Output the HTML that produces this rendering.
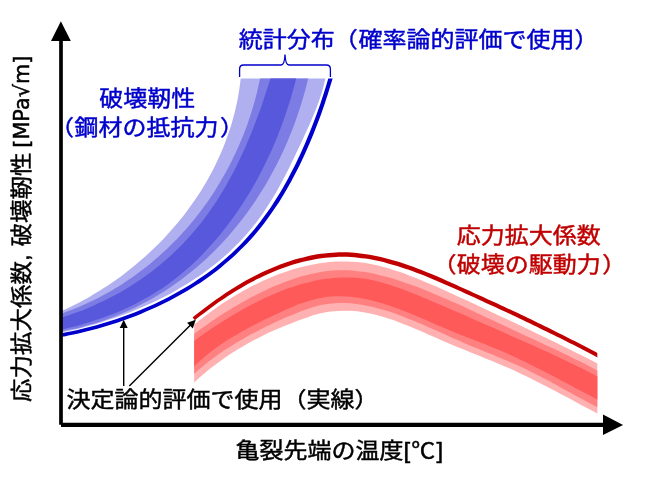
<!DOCTYPE html>
<html lang="ja"><head><meta charset="utf-8"><title>破壊靭性と応力拡大係数</title>
<style>
html,body{margin:0;padding:0;background:#fff;overflow:hidden}
body{width:645px;height:481px}
svg{display:block}
text{font-family:"Liberation Sans","Noto Sans CJK JP",sans-serif;}
</style></head><body>
<svg width="645" height="481" viewBox="0 0 645 481">
<rect width="645" height="481" fill="#fff"/>
<clipPath id="bc"><rect x="62" y="78.6" width="300" height="300"/></clipPath>
<g clip-path="url(#bc)">
<path d="M241.07,74.58 C240.93,75.92 240.55,79.95 240.22,82.62 C239.89,85.29 239.52,87.95 239.10,90.59 C238.69,93.24 238.23,95.88 237.74,98.50 C237.24,101.12 236.70,103.73 236.12,106.33 C235.54,108.93 234.92,111.51 234.26,114.09 C233.61,116.66 232.91,119.22 232.17,121.76 C231.43,124.31 230.65,126.84 229.84,129.36 C229.03,131.87 228.17,134.38 227.28,136.86 C226.39,139.35 225.47,141.83 224.50,144.28 C223.54,146.74 222.54,149.18 221.51,151.61 C220.47,154.04 219.40,156.45 218.30,158.85 C217.19,161.24 216.05,163.62 214.88,165.98 C213.70,168.35 212.50,170.69 211.26,173.02 C210.02,175.35 208.74,177.66 207.44,179.95 C206.13,182.25 204.79,184.52 203.42,186.78 C202.05,189.04 200.65,191.28 199.22,193.50 C197.79,195.72 196.33,197.92 194.83,200.10 C193.34,202.29 191.82,204.45 190.27,206.59 C188.72,208.74 187.14,210.86 185.53,212.97 C183.93,215.07 182.29,217.16 180.63,219.22 C178.97,221.28 177.28,223.32 175.56,225.35 C173.84,227.37 172.10,229.37 170.33,231.35 C168.56,233.32 166.77,235.28 164.95,237.21 C163.13,239.15 161.29,241.06 159.42,242.95 C157.55,244.84 155.66,246.71 153.75,248.55 C151.83,250.40 149.89,252.22 147.93,254.01 C145.97,255.81 143.99,257.58 141.99,259.33 C139.98,261.08 137.96,262.81 135.91,264.51 C133.87,266.21 131.80,267.88 129.71,269.53 C127.63,271.18 125.52,272.81 123.39,274.41 C121.27,276.01 119.12,277.58 116.96,279.13 C114.80,280.68 112.62,282.20 110.42,283.69 C108.22,285.19 106.01,286.65 103.78,288.10 C101.54,289.54 99.30,290.95 97.03,292.34 C94.77,293.72 92.49,295.08 90.19,296.41 C87.90,297.74 85.59,299.04 83.26,300.32 C80.94,301.59 78.60,302.83 76.25,304.05 C73.90,305.27 71.54,306.45 69.16,307.61 C66.79,308.77 63.19,310.43 62.00,310.99 L61.99,332.57 C63.61,332.20 68.48,331.12 71.73,330.35 C74.97,329.57 78.21,328.76 81.45,327.91 C84.69,327.06 87.93,326.18 91.16,325.25 C94.39,324.33 97.62,323.37 100.84,322.38 C104.05,321.38 107.26,320.35 110.46,319.28 C113.66,318.20 116.85,317.09 120.02,315.94 C123.19,314.79 126.35,313.61 129.50,312.38 C132.64,311.15 135.77,309.88 138.88,308.57 C141.99,307.27 145.09,305.92 148.16,304.53 C151.23,303.14 154.28,301.71 157.31,300.23 C160.33,298.76 163.34,297.25 166.32,295.69 C169.29,294.13 172.25,292.53 175.17,290.89 C178.09,289.25 180.99,287.56 183.85,285.83 C186.72,284.10 189.55,282.32 192.36,280.51 C195.16,278.69 197.92,276.82 200.66,274.91 C203.39,273.00 206.08,271.05 208.74,269.05 C211.40,267.05 214.02,265.00 216.60,262.91 C219.18,260.81 221.72,258.67 224.21,256.48 C226.71,254.30 229.16,252.06 231.56,249.78 C233.97,247.49 236.33,245.16 238.64,242.78 C240.95,240.40 243.22,237.97 245.43,235.49 C247.64,233.01 249.81,230.48 251.92,227.90 C254.02,225.32 256.08,222.69 258.08,220.01 C260.08,217.33 262.03,214.59 263.92,211.82 C265.82,209.04 267.66,206.22 269.46,203.36 C271.26,200.51 273.02,197.61 274.73,194.69 C276.45,191.76 278.12,188.80 279.76,185.83 C281.40,182.85 283.00,179.84 284.58,176.83 C286.15,173.81 287.70,170.77 289.22,167.72 C290.74,164.68 292.23,161.62 293.70,158.56 C295.18,155.50 296.63,152.43 298.07,149.37 C299.51,146.31 300.94,143.25 302.35,140.20 C303.76,137.15 305.18,134.12 306.55,131.08 C307.93,128.04 309.31,125.02 310.63,121.97 C311.95,118.93 313.25,115.88 314.49,112.81 C315.73,109.75 316.93,106.67 318.06,103.56 C319.18,100.44 320.26,97.31 321.25,94.14 C322.24,90.96 323.17,87.76 324.00,84.51 C324.82,81.25 325.84,76.26 326.21,74.61 Z" fill="#b0b0f0"/>
<path d="M260.80,74.59 C260.53,75.96 259.75,80.05 259.16,82.77 C258.58,85.49 257.96,88.21 257.31,90.91 C256.66,93.62 255.97,96.31 255.25,99.00 C254.53,101.69 253.78,104.37 252.99,107.04 C252.20,109.71 251.38,112.37 250.52,115.02 C249.66,117.67 248.77,120.31 247.85,122.94 C246.92,125.57 245.96,128.18 244.97,130.79 C243.98,133.39 242.96,135.98 241.91,138.56 C240.85,141.14 239.76,143.70 238.64,146.25 C237.52,148.80 236.37,151.34 235.18,153.86 C234.00,156.38 232.78,158.89 231.53,161.37 C230.29,163.86 229.01,166.34 227.69,168.79 C226.38,171.25 225.04,173.69 223.67,176.11 C222.30,178.53 220.89,180.93 219.46,183.31 C218.03,185.69 216.56,188.06 215.07,190.40 C213.57,192.75 212.05,195.07 210.49,197.38 C208.94,199.68 207.36,201.96 205.74,204.22 C204.13,206.48 202.49,208.72 200.82,210.94 C199.14,213.15 197.44,215.35 195.72,217.51 C193.99,219.68 192.23,221.83 190.44,223.95 C188.66,226.07 186.84,228.17 185.00,230.24 C183.16,232.31 181.29,234.36 179.39,236.38 C177.50,238.40 175.57,240.39 173.62,242.36 C171.67,244.33 169.70,246.27 167.70,248.18 C165.69,250.10 163.67,251.98 161.61,253.84 C159.56,255.70 157.48,257.53 155.38,259.33 C153.27,261.13 151.14,262.91 148.99,264.65 C146.84,266.40 144.66,268.11 142.46,269.80 C140.26,271.48 138.04,273.13 135.79,274.76 C133.54,276.38 131.27,277.97 128.98,279.54 C126.68,281.10 124.37,282.63 122.03,284.13 C119.69,285.62 117.33,287.09 114.95,288.52 C112.57,289.95 110.16,291.36 107.74,292.72 C105.32,294.09 102.87,295.42 100.41,296.72 C97.94,298.02 95.45,299.28 92.95,300.51 C90.44,301.74 87.92,302.94 85.37,304.10 C82.83,305.26 80.26,306.38 77.68,307.47 C75.10,308.55 72.50,309.60 69.88,310.62 C67.26,311.63 63.28,313.06 61.96,313.55 L61.98,331.27 C63.59,330.95 68.44,330.06 71.64,329.37 C74.84,328.69 78.03,327.95 81.19,327.15 C84.36,326.36 87.51,325.51 90.63,324.61 C93.76,323.71 96.86,322.75 99.95,321.74 C103.03,320.74 106.09,319.68 109.13,318.57 C112.17,317.46 115.19,316.30 118.18,315.09 C121.17,313.87 124.14,312.61 127.08,311.30 C130.03,309.99 132.95,308.63 135.84,307.22 C138.73,305.81 141.60,304.35 144.44,302.85 C147.28,301.35 150.10,299.79 152.88,298.19 C155.67,296.60 158.42,294.95 161.15,293.26 C163.88,291.57 166.58,289.83 169.25,288.05 C171.92,286.27 174.55,284.44 177.16,282.57 C179.77,280.70 182.35,278.79 184.89,276.83 C187.44,274.88 189.95,272.88 192.43,270.85 C194.92,268.81 197.37,266.73 199.78,264.62 C202.20,262.50 204.58,260.34 206.94,258.15 C209.29,255.96 211.60,253.73 213.89,251.46 C216.17,249.20 218.42,246.89 220.64,244.56 C222.85,242.22 225.03,239.84 227.18,237.44 C229.32,235.03 231.43,232.59 233.51,230.12 C235.58,227.65 237.62,225.15 239.62,222.62 C241.62,220.08 243.59,217.52 245.51,214.92 C247.44,212.33 249.33,209.71 251.19,207.06 C253.04,204.41 254.86,201.73 256.64,199.03 C258.42,196.33 260.16,193.60 261.86,190.84 C263.57,188.09 265.24,185.31 266.87,182.51 C268.50,179.71 270.09,176.89 271.64,174.05 C273.20,171.20 274.72,168.34 276.20,165.45 C277.68,162.57 279.12,159.66 280.52,156.74 C281.93,153.82 283.29,150.88 284.62,147.92 C285.95,144.96 287.24,141.99 288.49,139.00 C289.74,136.01 290.95,133.01 292.13,129.99 C293.30,126.98 294.44,123.95 295.54,120.91 C296.63,117.87 297.69,114.81 298.71,111.75 C299.73,108.69 300.72,105.61 301.66,102.53 C302.60,99.45 303.51,96.36 304.37,93.26 C305.24,90.16 306.06,87.06 306.85,83.95 C307.64,80.84 308.72,76.16 309.09,74.60 Z" fill="#7c7ce4"/>
<path d="M271.61,74.62 C271.20,75.97 269.97,80.02 269.13,82.72 C268.29,85.43 267.43,88.14 266.55,90.85 C265.67,93.56 264.78,96.27 263.86,98.99 C262.95,101.70 262.02,104.41 261.07,107.13 C260.11,109.84 259.14,112.55 258.15,115.25 C257.16,117.96 256.15,120.66 255.11,123.36 C254.08,126.06 253.03,128.75 251.95,131.43 C250.87,134.12 249.77,136.80 248.65,139.46 C247.53,142.13 246.38,144.79 245.21,147.44 C244.04,150.09 242.84,152.73 241.62,155.35 C240.40,157.98 239.16,160.59 237.88,163.19 C236.61,165.79 235.31,168.38 233.99,170.94 C232.66,173.51 231.31,176.07 229.93,178.60 C228.54,181.14 227.14,183.65 225.70,186.15 C224.26,188.65 222.79,191.13 221.29,193.58 C219.79,196.04 218.26,198.47 216.70,200.88 C215.14,203.30 213.55,205.69 211.92,208.05 C210.30,210.41 208.64,212.75 206.95,215.06 C205.26,217.37 203.54,219.66 201.78,221.92 C200.03,224.17 198.23,226.40 196.41,228.60 C194.59,230.80 192.73,232.97 190.84,235.11 C188.95,237.25 187.03,239.36 185.07,241.44 C183.12,243.52 181.13,245.56 179.11,247.58 C177.10,249.60 175.05,251.58 172.97,253.53 C170.89,255.48 168.78,257.40 166.64,259.29 C164.50,261.17 162.33,263.03 160.13,264.84 C157.93,266.66 155.70,268.44 153.44,270.19 C151.18,271.94 148.90,273.65 146.58,275.33 C144.27,277.00 141.92,278.64 139.55,280.25 C137.18,281.85 134.78,283.42 132.36,284.95 C129.94,286.48 127.49,287.97 125.02,289.43 C122.54,290.89 120.05,292.31 117.53,293.69 C115.01,295.08 112.47,296.43 109.91,297.74 C107.34,299.06 104.76,300.34 102.16,301.58 C99.56,302.82 96.94,304.03 94.31,305.21 C91.67,306.38 89.02,307.52 86.35,308.63 C83.68,309.74 81.00,310.81 78.30,311.84 C75.60,312.88 72.89,313.89 70.17,314.86 C67.45,315.83 63.34,317.20 61.97,317.67 L61.98,329.57 C63.51,329.20 68.11,328.12 71.17,327.34 C74.22,326.56 77.27,325.74 80.30,324.88 C83.34,324.03 86.37,323.13 89.38,322.20 C92.39,321.26 95.40,320.28 98.38,319.27 C101.36,318.25 104.33,317.19 107.28,316.08 C110.23,314.98 113.17,313.83 116.08,312.64 C118.99,311.44 121.88,310.21 124.74,308.92 C127.60,307.63 130.44,306.30 133.25,304.92 C136.06,303.53 138.85,302.10 141.60,300.62 C144.36,299.14 147.08,297.60 149.77,296.02 C152.46,294.44 155.12,292.80 157.75,291.12 C160.38,289.43 162.97,287.70 165.53,285.91 C168.08,284.13 170.61,282.30 173.09,280.42 C175.58,278.53 178.03,276.60 180.44,274.62 C182.86,272.65 185.24,270.62 187.58,268.56 C189.92,266.49 192.22,264.38 194.50,262.23 C196.77,260.08 199.00,257.88 201.20,255.66 C203.40,253.43 205.56,251.16 207.69,248.86 C209.82,246.56 211.91,244.23 213.97,241.86 C216.03,239.50 218.06,237.10 220.05,234.68 C222.04,232.25 224.00,229.79 225.92,227.31 C227.84,224.83 229.73,222.32 231.59,219.78 C233.44,217.24 235.26,214.68 237.05,212.09 C238.83,209.50 240.59,206.88 242.30,204.24 C244.02,201.61 245.71,198.94 247.36,196.26 C249.01,193.58 250.63,190.87 252.21,188.14 C253.79,185.42 255.34,182.67 256.86,179.90 C258.37,177.14 259.85,174.35 261.30,171.55 C262.75,168.75 264.17,165.93 265.55,163.09 C266.93,160.25 268.28,157.40 269.60,154.53 C270.91,151.66 272.19,148.78 273.44,145.89 C274.69,142.99 275.91,140.08 277.09,137.16 C278.27,134.24 279.42,131.31 280.54,128.37 C281.65,125.42 282.74,122.47 283.79,119.51 C284.84,116.55 285.86,113.58 286.84,110.60 C287.83,107.62 288.78,104.64 289.70,101.65 C290.62,98.66 291.51,95.66 292.36,92.66 C293.22,89.66 294.04,86.65 294.83,83.65 C295.62,80.64 296.72,76.12 297.10,74.62 Z" fill="#5858dc"/>
<path d="M329.53,74.05 C329.06,75.65 327.70,80.46 326.74,83.67 C325.78,86.87 324.80,90.07 323.78,93.28 C322.76,96.48 321.70,99.68 320.62,102.89 C319.54,106.09 318.42,109.29 317.27,112.48 C316.12,115.68 314.94,118.87 313.73,122.06 C312.52,125.24 311.27,128.42 310.00,131.60 C308.72,134.77 307.41,137.94 306.06,141.09 C304.72,144.25 303.34,147.39 301.93,150.52 C300.52,153.66 299.07,156.78 297.59,159.87 C296.11,162.97 294.59,166.06 293.04,169.12 C291.48,172.18 289.89,175.23 288.26,178.24 C286.62,181.26 284.95,184.25 283.24,187.22 C281.53,190.18 279.78,193.12 277.99,196.02 C276.20,198.93 274.36,201.80 272.49,204.64 C270.61,207.48 268.69,210.28 266.73,213.04 C264.76,215.81 262.75,218.54 260.70,221.22 C258.65,223.90 256.55,226.54 254.40,229.14 C252.25,231.73 250.06,234.29 247.81,236.79 C245.57,239.29 243.28,241.74 240.94,244.14 C238.60,246.54 236.21,248.90 233.77,251.20 C231.34,253.50 228.86,255.76 226.33,257.97 C223.81,260.17 221.24,262.33 218.63,264.45 C216.03,266.56 213.38,268.62 210.69,270.64 C208.00,272.65 205.27,274.62 202.51,276.55 C199.74,278.47 196.94,280.35 194.11,282.18 C191.28,284.01 188.41,285.79 185.51,287.53 C182.61,289.26 179.67,290.96 176.71,292.60 C173.75,294.25 170.76,295.85 167.75,297.41 C164.73,298.97 161.69,300.48 158.62,301.94 C155.55,303.41 152.46,304.84 149.34,306.22 C146.23,307.59 143.09,308.93 139.94,310.22 C136.78,311.52 133.60,312.76 130.41,313.97 C127.22,315.18 124.01,316.34 120.78,317.46 C117.56,318.58 114.32,319.66 111.06,320.70 C107.81,321.74 104.55,322.73 101.27,323.69 C98.00,324.64 94.71,325.55 91.42,326.42 C88.13,327.30 84.83,328.13 81.52,328.92 C78.22,329.71 74.91,330.46 71.59,331.17 C68.28,331.88 63.29,332.85 61.63,333.19 L62.35,336.74 C64.02,336.40 69.02,335.43 72.35,334.72 C75.69,334.00 79.03,333.25 82.37,332.45 C85.70,331.66 89.03,330.82 92.35,329.94 C95.67,329.07 98.99,328.15 102.29,327.19 C105.59,326.23 108.89,325.23 112.17,324.18 C115.46,323.14 118.73,322.05 121.98,320.92 C125.24,319.79 128.48,318.62 131.71,317.41 C134.93,316.19 138.14,314.94 141.33,313.63 C144.52,312.33 147.69,310.99 150.84,309.60 C153.99,308.21 157.12,306.77 160.22,305.29 C163.32,303.81 166.40,302.29 169.45,300.72 C172.51,299.15 175.53,297.54 178.53,295.87 C181.53,294.21 184.50,292.51 187.44,290.75 C190.37,289.00 193.28,287.20 196.16,285.35 C199.03,283.50 201.87,281.61 204.67,279.66 C207.48,277.72 210.25,275.73 212.97,273.69 C215.70,271.65 218.40,269.57 221.05,267.43 C223.70,265.29 226.31,263.11 228.87,260.87 C231.44,258.64 233.96,256.36 236.44,254.02 C238.92,251.69 241.35,249.30 243.73,246.87 C246.12,244.44 248.45,241.95 250.74,239.42 C253.02,236.88 255.26,234.29 257.44,231.66 C259.63,229.04 261.76,226.36 263.85,223.64 C265.94,220.92 267.99,218.16 269.98,215.36 C271.98,212.57 273.93,209.73 275.84,206.86 C277.74,203.99 279.60,201.08 281.42,198.14 C283.24,195.21 285.01,192.24 286.75,189.24 C288.48,186.25 290.18,183.22 291.83,180.18 C293.48,177.13 295.09,174.06 296.67,170.97 C298.24,167.88 299.78,164.77 301.28,161.64 C302.78,158.51 304.24,155.37 305.67,152.21 C307.09,149.06 308.48,145.88 309.84,142.70 C311.20,139.52 312.52,136.33 313.81,133.14 C315.10,129.94 316.36,126.74 317.59,123.53 C318.81,120.32 320.00,117.10 321.16,113.88 C322.32,110.66 323.44,107.44 324.54,104.21 C325.63,100.99 326.69,97.76 327.72,94.54 C328.75,91.31 329.75,88.08 330.72,84.86 C331.68,81.64 333.05,76.82 333.52,75.21 Z" fill="#0000cc"/>
</g>
<clipPath id="rc"><rect x="194.2" y="200" width="403.09999999999997" height="240"/></clipPath>
<clipPath id="rs"><rect x="180" y="200" width="417.29999999999995" height="240"/></clipPath>
<g clip-path="url(#rc)">
<path d="M190.20,328.03 C191.14,327.25 193.92,324.89 195.83,323.33 C197.73,321.78 199.66,320.23 201.62,318.70 C203.58,317.17 205.57,315.64 207.58,314.14 C209.60,312.64 211.63,311.15 213.70,309.67 C215.76,308.20 217.85,306.75 219.96,305.31 C222.06,303.88 224.20,302.46 226.35,301.07 C228.51,299.68 230.68,298.31 232.88,296.97 C235.08,295.62 237.29,294.30 239.53,293.01 C241.76,291.72 244.02,290.45 246.29,289.22 C248.56,287.99 250.85,286.78 253.15,285.61 C255.46,284.43 257.78,283.29 260.12,282.19 C262.45,281.08 264.81,280.01 267.17,278.98 C269.53,277.94 271.91,276.94 274.30,275.99 C276.69,275.03 279.09,274.11 281.50,273.23 C283.92,272.36 286.34,271.52 288.77,270.73 C291.20,269.95 293.65,269.20 296.10,268.50 C298.55,267.80 301.00,267.15 303.47,266.55 C305.93,265.95 308.40,265.39 310.88,264.89 C313.35,264.39 315.83,263.94 318.32,263.55 C320.80,263.15 323.29,262.81 325.78,262.52 C328.27,262.24 330.77,262.01 333.26,261.84 C335.75,261.67 338.25,261.56 340.75,261.51 C343.24,261.47 345.74,261.48 348.23,261.56 C350.72,261.63 353.21,261.77 355.70,261.98 C358.19,262.19 360.67,262.46 363.16,262.80 C365.64,263.14 368.11,263.55 370.59,264.01 C373.06,264.47 375.53,265.00 377.99,265.58 C380.46,266.15 382.92,266.78 385.37,267.46 C387.83,268.13 390.28,268.86 392.72,269.63 C395.16,270.39 397.60,271.20 400.04,272.04 C402.47,272.88 404.90,273.77 407.32,274.67 C409.74,275.58 412.16,276.52 414.57,277.48 C416.98,278.44 419.38,279.43 421.78,280.43 C424.17,281.43 426.57,282.46 428.95,283.49 C431.33,284.52 433.71,285.57 436.08,286.62 C438.45,287.67 440.81,288.74 443.16,289.79 C445.52,290.85 447.86,291.91 450.20,292.97 C452.54,294.03 454.88,295.10 457.20,296.16 C459.53,297.22 461.85,298.28 464.17,299.35 C466.48,300.41 468.79,301.48 471.10,302.54 C473.40,303.61 475.70,304.68 478.00,305.74 C480.30,306.81 482.59,307.88 484.88,308.95 C487.17,310.02 489.45,311.09 491.74,312.16 C494.02,313.23 496.30,314.30 498.58,315.38 C500.86,316.45 503.13,317.52 505.41,318.60 C507.68,319.67 509.96,320.75 512.23,321.83 C514.51,322.90 516.78,323.98 519.05,325.06 C521.33,326.14 523.60,327.22 525.87,328.30 C528.15,329.38 530.42,330.46 532.70,331.55 C534.98,332.63 537.26,333.72 539.53,334.80 C541.81,335.89 544.09,336.98 546.37,338.07 C548.65,339.17 550.93,340.26 553.21,341.36 C555.49,342.46 557.77,343.56 560.05,344.67 C562.33,345.78 564.62,346.89 566.89,348.01 C569.17,349.13 571.45,350.26 573.73,351.39 C576.01,352.52 578.29,353.65 580.56,354.80 C582.84,355.94 585.12,357.10 587.39,358.26 C589.66,359.41 591.94,360.58 594.21,361.76 C596.48,362.94 599.88,364.72 601.01,365.32 L600.98,415.29 C599.85,414.71 596.47,412.96 594.22,411.79 C591.96,410.61 589.70,409.42 587.44,408.23 C585.18,407.03 582.92,405.83 580.66,404.63 C578.39,403.42 576.12,402.21 573.86,401.00 C571.59,399.79 569.31,398.58 567.04,397.37 C564.77,396.16 562.49,394.94 560.21,393.73 C557.93,392.53 555.65,391.32 553.36,390.12 C551.08,388.92 548.79,387.72 546.50,386.53 C544.21,385.35 541.91,384.16 539.61,382.99 C537.32,381.82 535.02,380.66 532.71,379.52 C530.41,378.37 528.10,377.23 525.79,376.11 C523.48,374.99 521.17,373.88 518.85,372.79 C516.54,371.70 514.22,370.63 511.89,369.58 C509.57,368.52 507.24,367.49 504.91,366.47 C502.58,365.45 500.24,364.45 497.91,363.46 C495.57,362.47 493.23,361.50 490.88,360.53 C488.54,359.56 486.19,358.60 483.84,357.64 C481.49,356.68 479.14,355.74 476.79,354.78 C474.43,353.83 472.08,352.89 469.72,351.94 C467.36,350.99 465.00,350.04 462.64,349.08 C460.27,348.12 457.91,347.16 455.54,346.18 C453.18,345.21 450.81,344.23 448.44,343.23 C446.07,342.23 443.70,341.22 441.33,340.20 C438.95,339.17 436.58,338.13 434.20,337.09 C431.83,336.04 429.45,334.98 427.07,333.93 C424.69,332.88 422.30,331.83 419.92,330.79 C417.53,329.75 415.13,328.72 412.74,327.71 C410.34,326.70 407.94,325.70 405.53,324.73 C403.12,323.77 400.70,322.82 398.28,321.92 C395.86,321.01 393.43,320.13 390.99,319.31 C388.55,318.48 386.11,317.69 383.66,316.95 C381.20,316.22 378.74,315.53 376.27,314.90 C373.80,314.28 371.31,313.71 368.82,313.21 C366.33,312.71 363.82,312.28 361.31,311.92 C358.79,311.57 356.26,311.28 353.73,311.09 C351.20,310.89 348.65,310.77 346.11,310.73 C343.57,310.70 341.02,310.74 338.48,310.88 C335.94,311.02 333.40,311.25 330.87,311.57 C328.35,311.89 325.83,312.30 323.32,312.80 C320.82,313.31 318.34,313.93 315.86,314.61 C313.39,315.29 310.94,316.09 308.49,316.90 C306.05,317.71 303.62,318.59 301.19,319.47 C298.76,320.35 296.34,321.25 293.93,322.18 C291.51,323.10 289.11,324.03 286.72,325.00 C284.33,325.96 281.94,326.94 279.58,327.94 C277.21,328.95 274.86,329.98 272.52,331.03 C270.19,332.09 267.87,333.17 265.57,334.27 C263.27,335.38 260.98,336.51 258.72,337.67 C256.45,338.82 254.20,340.01 251.97,341.22 C249.73,342.43 247.52,343.67 245.32,344.93 C243.12,346.20 240.93,347.49 238.77,348.81 C236.60,350.14 234.45,351.49 232.32,352.86 C230.19,354.24 228.08,355.65 225.98,357.09 C223.88,358.52 221.80,359.99 219.74,361.48 C217.67,362.98 215.62,364.51 213.59,366.06 C211.56,367.62 209.55,369.20 207.55,370.82 C205.56,372.44 203.58,374.09 201.62,375.77 C199.65,377.45 197.71,379.16 195.78,380.90 C193.85,382.64 191.00,385.34 190.04,386.22 Z" fill="#ffb0b0"/>
<path d="M189.99,336.82 C190.99,336.08 193.99,333.86 196.00,332.39 C198.02,330.92 200.04,329.46 202.08,328.02 C204.12,326.57 206.17,325.14 208.23,323.72 C210.29,322.30 212.37,320.89 214.46,319.50 C216.55,318.10 218.65,316.72 220.77,315.36 C222.89,313.99 225.02,312.64 227.17,311.30 C229.32,309.97 231.48,308.65 233.67,307.34 C235.85,306.04 238.04,304.75 240.25,303.48 C242.47,302.22 244.70,300.96 246.95,299.73 C249.19,298.50 251.46,297.28 253.74,296.09 C256.02,294.90 258.32,293.72 260.64,292.58 C262.95,291.44 265.28,290.32 267.62,289.24 C269.97,288.15 272.33,287.09 274.69,286.08 C277.06,285.06 279.45,284.07 281.84,283.13 C284.23,282.19 286.64,281.28 289.05,280.42 C291.47,279.56 293.90,278.74 296.33,277.97 C298.76,277.20 301.20,276.48 303.65,275.81 C306.10,275.15 308.56,274.53 311.02,273.97 C313.48,273.41 315.95,272.91 318.43,272.47 C320.90,272.03 323.38,271.64 325.86,271.33 C328.34,271.01 330.82,270.76 333.31,270.58 C335.79,270.40 338.28,270.29 340.77,270.25 C343.26,270.21 345.75,270.25 348.24,270.36 C350.73,270.46 353.22,270.64 355.70,270.88 C358.19,271.12 360.68,271.43 363.16,271.79 C365.64,272.15 368.12,272.58 370.60,273.05 C373.08,273.52 375.56,274.06 378.03,274.63 C380.50,275.20 382.97,275.83 385.43,276.49 C387.89,277.15 390.35,277.86 392.80,278.60 C395.25,279.34 397.70,280.12 400.13,280.93 C402.57,281.73 405.00,282.57 407.43,283.43 C409.85,284.29 412.27,285.19 414.68,286.09 C417.09,287.00 419.48,287.92 421.87,288.86 C424.26,289.80 426.65,290.75 429.02,291.72 C431.39,292.69 433.75,293.67 436.11,294.66 C438.47,295.65 440.81,296.65 443.16,297.66 C445.50,298.67 447.83,299.69 450.16,300.72 C452.49,301.75 454.81,302.79 457.13,303.84 C459.45,304.88 461.76,305.94 464.07,306.99 C466.38,308.05 468.68,309.12 470.98,310.19 C473.28,311.25 475.58,312.33 477.87,313.40 C480.17,314.48 482.46,315.55 484.75,316.63 C487.04,317.71 489.32,318.79 491.61,319.87 C493.89,320.95 496.18,322.04 498.46,323.11 C500.75,324.19 503.03,325.27 505.31,326.34 C507.60,327.42 509.88,328.49 512.17,329.56 C514.45,330.63 516.74,331.69 519.03,332.75 C521.31,333.81 523.60,334.86 525.89,335.92 C528.18,336.97 530.47,338.02 532.76,339.07 C535.05,340.13 537.34,341.18 539.63,342.24 C541.92,343.29 544.21,344.35 546.50,345.41 C548.78,346.47 551.07,347.54 553.36,348.61 C555.64,349.68 557.93,350.75 560.21,351.84 C562.49,352.92 564.77,354.01 567.05,355.11 C569.33,356.22 571.61,357.32 573.88,358.45 C576.15,359.57 578.43,360.70 580.69,361.84 C582.96,362.99 585.22,364.15 587.48,365.32 C589.74,366.49 592.00,367.68 594.25,368.88 C596.51,370.09 599.87,371.94 601.00,372.55 L600.99,408.97 C599.86,408.40 596.46,406.69 594.20,405.53 C591.94,404.36 589.68,403.18 587.42,401.98 C585.16,400.78 582.90,399.56 580.65,398.34 C578.39,397.12 576.13,395.88 573.87,394.65 C571.61,393.41 569.36,392.17 567.09,390.92 C564.83,389.68 562.57,388.43 560.31,387.19 C558.04,385.95 555.78,384.71 553.51,383.48 C551.24,382.25 548.96,381.02 546.69,379.81 C544.41,378.60 542.13,377.40 539.85,376.21 C537.56,375.03 535.27,373.86 532.98,372.71 C530.68,371.57 528.39,370.44 526.08,369.33 C523.77,368.23 521.46,367.15 519.15,366.09 C516.83,365.03 514.51,364.00 512.18,362.97 C509.85,361.95 507.52,360.94 505.19,359.95 C502.85,358.95 500.51,357.97 498.17,356.99 C495.83,356.01 493.48,355.05 491.13,354.08 C488.79,353.12 486.43,352.16 484.08,351.19 C481.73,350.23 479.37,349.27 477.02,348.30 C474.66,347.33 472.30,346.36 469.94,345.38 C467.58,344.39 465.22,343.41 462.86,342.40 C460.50,341.40 458.14,340.38 455.78,339.35 C453.42,338.31 451.06,337.26 448.70,336.21 C446.34,335.16 443.98,334.09 441.62,333.03 C439.25,331.97 436.89,330.90 434.52,329.84 C432.15,328.78 429.78,327.72 427.41,326.67 C425.03,325.62 422.65,324.58 420.27,323.56 C417.89,322.53 415.50,321.52 413.11,320.53 C410.71,319.55 408.31,318.57 405.91,317.63 C403.50,316.70 401.09,315.78 398.67,314.90 C396.25,314.02 393.83,313.16 391.39,312.35 C388.96,311.54 386.51,310.76 384.06,310.04 C381.61,309.31 379.15,308.62 376.68,307.98 C374.21,307.35 371.72,306.76 369.23,306.23 C366.74,305.69 364.24,305.21 361.72,304.80 C359.20,304.39 356.67,304.02 354.14,303.74 C351.61,303.46 349.06,303.24 346.52,303.11 C343.97,302.98 341.42,302.92 338.88,302.97 C336.34,303.02 333.80,303.15 331.27,303.39 C328.75,303.63 326.23,303.97 323.73,304.44 C321.23,304.90 318.75,305.50 316.28,306.17 C313.82,306.85 311.37,307.66 308.93,308.48 C306.50,309.30 304.07,310.20 301.65,311.10 C299.23,312.00 296.82,312.94 294.42,313.90 C292.03,314.85 289.63,315.84 287.26,316.85 C284.88,317.86 282.51,318.90 280.15,319.96 C277.80,321.02 275.46,322.10 273.12,323.20 C270.79,324.30 268.48,325.42 266.17,326.56 C263.87,327.70 261.58,328.86 259.30,330.03 C257.03,331.20 254.76,332.39 252.52,333.59 C250.27,334.80 248.04,336.01 245.83,337.26 C243.61,338.50 241.41,339.76 239.23,341.04 C237.05,342.32 234.88,343.63 232.73,344.96 C230.58,346.29 228.44,347.64 226.32,349.03 C224.20,350.41 222.10,351.82 220.02,353.27 C217.93,354.71 215.86,356.18 213.81,357.69 C211.76,359.20 209.73,360.74 207.71,362.32 C205.70,363.89 203.70,365.51 201.72,367.16 C199.74,368.81 197.78,370.50 195.83,372.24 C193.89,373.97 191.02,376.68 190.06,377.56 Z" fill="#ff8080"/>
<path d="M189.96,343.78 C190.98,343.05 194.02,340.86 196.06,339.40 C198.10,337.95 200.14,336.51 202.20,335.07 C204.26,333.64 206.32,332.22 208.40,330.81 C210.48,329.40 212.56,327.99 214.66,326.61 C216.76,325.22 218.87,323.85 220.99,322.49 C223.11,321.13 225.25,319.79 227.39,318.47 C229.54,317.14 231.70,315.83 233.87,314.54 C236.05,313.25 238.23,311.98 240.44,310.73 C242.64,309.48 244.86,308.25 247.09,307.04 C249.32,305.83 251.57,304.64 253.83,303.48 C256.10,302.31 258.38,301.17 260.68,300.06 C262.98,298.94 265.30,297.85 267.63,296.79 C269.96,295.73 272.31,294.69 274.67,293.70 C277.04,292.70 279.41,291.73 281.80,290.80 C284.19,289.87 286.60,288.97 289.01,288.12 C291.43,287.27 293.85,286.45 296.29,285.69 C298.72,284.92 301.17,284.19 303.62,283.52 C306.07,282.84 308.53,282.21 311.00,281.64 C313.46,281.06 315.94,280.54 318.41,280.07 C320.89,279.60 323.37,279.19 325.86,278.84 C328.34,278.49 330.83,278.20 333.32,277.97 C335.80,277.74 338.29,277.58 340.78,277.48 C343.27,277.39 345.76,277.36 348.24,277.40 C350.73,277.45 353.21,277.56 355.69,277.75 C358.17,277.94 360.65,278.21 363.12,278.55 C365.59,278.89 368.05,279.31 370.51,279.79 C372.98,280.27 375.43,280.83 377.88,281.43 C380.33,282.03 382.78,282.70 385.22,283.41 C387.66,284.12 390.09,284.88 392.52,285.68 C394.95,286.48 397.37,287.33 399.79,288.20 C402.21,289.08 404.62,289.99 407.03,290.92 C409.43,291.85 411.83,292.82 414.23,293.79 C416.62,294.76 419.01,295.75 421.39,296.75 C423.77,297.74 426.15,298.75 428.52,299.76 C430.88,300.76 433.25,301.77 435.60,302.78 C437.96,303.78 440.31,304.79 442.66,305.80 C445.00,306.80 447.34,307.81 449.68,308.82 C452.02,309.83 454.35,310.83 456.67,311.84 C459.00,312.85 461.32,313.86 463.64,314.87 C465.96,315.88 468.27,316.89 470.59,317.90 C472.90,318.91 475.21,319.92 477.51,320.93 C479.82,321.94 482.12,322.95 484.42,323.97 C486.72,324.98 489.02,325.99 491.32,327.01 C493.62,328.02 495.91,329.04 498.21,330.05 C500.50,331.07 502.79,332.09 505.09,333.10 C507.38,334.12 509.67,335.14 511.96,336.16 C514.26,337.18 516.55,338.20 518.84,339.22 C521.13,340.24 523.43,341.26 525.72,342.29 C528.01,343.31 530.31,344.34 532.60,345.37 C534.89,346.39 537.19,347.43 539.48,348.46 C541.78,349.50 544.07,350.54 546.36,351.58 C548.65,352.63 550.94,353.68 553.23,354.73 C555.52,355.79 557.81,356.85 560.10,357.92 C562.39,358.99 564.67,360.07 566.96,361.15 C569.24,362.24 571.52,363.33 573.80,364.44 C576.08,365.54 578.36,366.66 580.63,367.78 C582.91,368.91 585.18,370.04 587.44,371.19 C589.71,372.34 591.98,373.49 594.24,374.67 C596.50,375.84 599.88,377.63 601.01,378.22 L600.98,401.40 C599.85,400.82 596.46,399.08 594.20,397.91 C591.93,396.74 589.67,395.56 587.41,394.37 C585.14,393.19 582.88,391.99 580.62,390.80 C578.35,389.60 576.09,388.40 573.82,387.19 C571.55,385.99 569.28,384.78 567.01,383.58 C564.74,382.37 562.47,381.16 560.20,379.96 C557.92,378.76 555.65,377.56 553.37,376.36 C551.09,375.16 548.81,373.97 546.53,372.78 C544.24,371.60 541.96,370.42 539.67,369.25 C537.38,368.08 535.09,366.91 532.79,365.76 C530.49,364.61 528.19,363.47 525.89,362.34 C523.58,361.22 521.28,360.10 518.96,359.00 C516.65,357.90 514.33,356.82 512.01,355.75 C509.69,354.68 507.36,353.63 505.03,352.60 C502.70,351.57 500.36,350.56 498.02,349.57 C495.68,348.58 493.33,347.62 490.98,346.67 C488.63,345.71 486.27,344.78 483.91,343.85 C481.55,342.92 479.19,342.00 476.82,341.08 C474.45,340.16 472.09,339.25 469.72,338.33 C467.35,337.41 464.97,336.50 462.60,335.57 C460.23,334.63 457.86,333.70 455.49,332.74 C453.12,331.78 450.75,330.81 448.38,329.82 C446.01,328.83 443.64,327.82 441.27,326.80 C438.90,325.79 436.53,324.75 434.16,323.72 C431.79,322.69 429.42,321.65 427.05,320.62 C424.67,319.58 422.29,318.55 419.91,317.53 C417.53,316.51 415.15,315.49 412.76,314.50 C410.37,313.50 407.98,312.52 405.58,311.57 C403.18,310.61 400.77,309.67 398.36,308.77 C395.95,307.87 393.53,307.00 391.10,306.16 C388.67,305.33 386.24,304.52 383.79,303.77 C381.35,303.01 378.89,302.30 376.43,301.64 C373.96,300.98 371.49,300.36 369.00,299.80 C366.51,299.25 364.01,298.75 361.50,298.31 C358.99,297.88 356.47,297.51 353.93,297.21 C351.40,296.91 348.86,296.67 346.31,296.52 C343.77,296.37 341.22,296.30 338.68,296.31 C336.13,296.32 333.59,296.41 331.06,296.61 C328.52,296.80 326.00,297.07 323.49,297.46 C320.98,297.84 318.48,298.33 316.00,298.90 C313.52,299.48 311.06,300.16 308.61,300.90 C306.16,301.65 303.73,302.48 301.31,303.36 C298.89,304.23 296.48,305.18 294.08,306.15 C291.69,307.12 289.30,308.15 286.93,309.19 C284.55,310.23 282.19,311.30 279.84,312.39 C277.48,313.47 275.14,314.59 272.81,315.71 C270.48,316.83 268.16,317.98 265.84,319.12 C263.53,320.27 261.23,321.42 258.94,322.59 C256.65,323.75 254.36,324.92 252.10,326.11 C249.83,327.30 247.58,328.50 245.34,329.72 C243.10,330.94 240.88,332.17 238.67,333.44 C236.47,334.70 234.28,335.98 232.11,337.30 C229.94,338.61 227.79,339.95 225.66,341.32 C223.53,342.70 221.42,344.10 219.34,345.54 C217.26,346.99 215.20,348.46 213.16,349.98 C211.13,351.50 209.12,353.06 207.14,354.67 C205.16,356.28 203.20,357.93 201.27,359.63 C199.35,361.33 197.45,363.08 195.59,364.89 C193.73,366.70 191.01,369.55 190.09,370.48 Z" fill="#ff5a5a"/>
</g>
<path d="M194.90,320.18 C195.86,319.42 198.71,317.13 200.65,315.62 C202.59,314.11 204.54,312.61 206.51,311.13 C208.49,309.64 210.48,308.17 212.50,306.71 C214.51,305.25 216.54,303.80 218.59,302.37 C220.64,300.95 222.71,299.53 224.79,298.14 C226.88,296.75 228.98,295.37 231.11,294.02 C233.23,292.67 235.37,291.34 237.52,290.04 C239.68,288.74 241.85,287.46 244.04,286.20 C246.23,284.95 248.44,283.73 250.66,282.53 C252.89,281.34 255.13,280.17 257.38,279.04 C259.64,277.91 261.91,276.81 264.20,275.74 C266.48,274.68 268.78,273.65 271.10,272.66 C273.42,271.67 275.75,270.71 278.09,269.80 C280.44,268.89 282.80,268.01 285.17,267.18 C287.54,266.35 289.93,265.56 292.32,264.82 C294.71,264.08 297.12,263.38 299.53,262.73 C301.94,262.08 304.36,261.48 306.79,260.93 C309.21,260.38 311.65,259.88 314.08,259.44 C316.52,259.00 318.96,258.60 321.40,258.27 C323.84,257.93 326.29,257.65 328.73,257.43 C331.18,257.21 333.62,257.05 336.07,256.94 C338.51,256.84 340.96,256.80 343.40,256.83 C345.84,256.85 348.28,256.93 350.72,257.08 C353.16,257.22 355.60,257.42 358.04,257.68 C360.48,257.93 362.92,258.25 365.35,258.61 C367.78,258.97 370.22,259.39 372.64,259.85 C375.07,260.31 377.50,260.82 379.92,261.37 C382.34,261.92 384.76,262.51 387.17,263.15 C389.59,263.78 392.00,264.45 394.40,265.16 C396.80,265.87 399.20,266.61 401.59,267.39 C403.98,268.16 406.37,268.97 408.75,269.80 C411.13,270.63 413.50,271.50 415.86,272.38 C418.23,273.26 420.58,274.17 422.94,275.10 C425.29,276.02 427.63,276.97 429.97,277.94 C432.31,278.90 434.65,279.89 436.98,280.88 C439.31,281.87 441.63,282.88 443.95,283.90 C446.28,284.92 448.59,285.95 450.91,286.98 C453.22,288.01 455.53,289.05 457.84,290.09 C460.14,291.14 462.45,292.18 464.75,293.23 C467.05,294.27 469.35,295.31 471.65,296.36 C473.94,297.40 476.23,298.45 478.52,299.49 C480.81,300.54 483.10,301.58 485.38,302.63 C487.67,303.68 489.95,304.72 492.23,305.77 C494.51,306.82 496.78,307.87 499.06,308.93 C501.33,309.98 503.60,311.03 505.87,312.09 C508.14,313.15 510.41,314.21 512.67,315.27 C514.94,316.33 517.20,317.39 519.46,318.46 C521.72,319.53 523.98,320.60 526.23,321.67 C528.49,322.75 530.74,323.82 532.99,324.90 C535.25,325.98 537.50,327.07 539.74,328.16 C541.99,329.25 544.24,330.34 546.48,331.44 C548.73,332.53 550.97,333.64 553.21,334.74 C555.45,335.85 557.69,336.96 559.93,338.08 C562.17,339.20 564.41,340.32 566.64,341.45 C568.88,342.58 571.11,343.71 573.34,344.85 C575.57,345.99 577.80,347.14 580.03,348.29 C582.26,349.45 584.49,350.61 586.72,351.78 C588.94,352.94 591.17,354.12 593.39,355.30 C595.61,356.49 598.95,358.28 600.06,358.88 L601.92,355.41 C600.81,354.81 597.47,353.01 595.25,351.82 C593.02,350.63 590.79,349.45 588.56,348.27 C586.33,347.10 584.09,345.93 581.86,344.77 C579.63,343.61 577.39,342.46 575.16,341.31 C572.92,340.16 570.68,339.02 568.44,337.89 C566.20,336.75 563.96,335.62 561.72,334.50 C559.48,333.38 557.23,332.26 554.99,331.15 C552.74,330.04 550.50,328.93 548.25,327.83 C546.00,326.73 543.75,325.63 541.50,324.54 C539.25,323.44 536.99,322.35 534.74,321.27 C532.48,320.18 530.23,319.10 527.97,318.03 C525.71,316.95 523.45,315.88 521.19,314.81 C518.92,313.73 516.66,312.67 514.39,311.60 C512.13,310.54 509.86,309.48 507.59,308.42 C505.31,307.36 503.04,306.30 500.76,305.25 C498.49,304.19 496.21,303.14 493.93,302.09 C491.65,301.03 489.37,299.98 487.08,298.93 C484.79,297.89 482.51,296.84 480.21,295.79 C477.92,294.74 475.63,293.70 473.33,292.65 C471.04,291.61 468.74,290.56 466.43,289.52 C464.13,288.47 461.83,287.42 459.51,286.38 C457.20,285.33 454.89,284.29 452.57,283.25 C450.25,282.21 447.93,281.17 445.60,280.15 C443.27,279.12 440.94,278.10 438.60,277.10 C436.25,276.09 433.91,275.10 431.55,274.12 C429.20,273.14 426.84,272.17 424.47,271.23 C422.10,270.29 419.72,269.36 417.34,268.46 C414.95,267.55 412.56,266.67 410.15,265.82 C407.75,264.96 405.34,264.13 402.91,263.34 C400.49,262.54 398.06,261.77 395.62,261.04 C393.19,260.31 390.74,259.61 388.28,258.95 C385.83,258.30 383.37,257.68 380.90,257.10 C378.43,256.53 375.96,256.00 373.47,255.51 C370.99,255.03 368.50,254.60 366.01,254.21 C363.52,253.83 361.02,253.50 358.51,253.23 C356.01,252.96 353.50,252.74 350.99,252.59 C348.48,252.44 345.96,252.35 343.44,252.33 C340.92,252.30 338.40,252.35 335.88,252.45 C333.36,252.56 330.84,252.74 328.32,252.97 C325.81,253.20 323.29,253.50 320.79,253.86 C318.28,254.21 315.77,254.63 313.28,255.10 C310.78,255.57 308.29,256.09 305.81,256.67 C303.33,257.25 300.85,257.88 298.39,258.56 C295.93,259.23 293.48,259.97 291.04,260.74 C288.60,261.51 286.17,262.34 283.76,263.20 C281.35,264.07 278.95,264.98 276.57,265.92 C274.19,266.87 271.82,267.86 269.47,268.89 C267.12,269.92 264.79,270.98 262.47,272.08 C260.16,273.18 257.86,274.32 255.58,275.48 C253.30,276.65 251.04,277.85 248.79,279.07 C246.55,280.30 244.32,281.56 242.11,282.84 C239.90,284.13 237.71,285.44 235.53,286.77 C233.36,288.11 231.21,289.47 229.07,290.85 C226.93,292.23 224.82,293.63 222.72,295.05 C220.62,296.47 218.54,297.91 216.48,299.36 C214.42,300.82 212.38,302.29 210.36,303.78 C208.33,305.26 206.33,306.76 204.35,308.27 C202.37,309.77 200.40,311.30 198.46,312.82 C196.52,314.35 193.66,316.65 192.70,317.41 Z" fill="#c00000" clip-path="url(#rs)"/>

<!-- axes -->
<line x1="61" y1="40" x2="61" y2="424.8" stroke="#000" stroke-width="3.7"/>
<polygon points="60.9,21.2 70.8,40.9 51,40.9" fill="#000"/>
<line x1="61" y1="424.9" x2="604" y2="424.9" stroke="#000" stroke-width="4.1"/>
<polygon points="623.1,424.9 603,414.6 603,435.1" fill="#000"/>
<!-- brace -->
<path d="M239.6,77 L239.6,69 Q239.6,65 243.6,65 L281,65 Q284.6,65 285,54.5 Q285.4,65 289,65 L326.4,65 Q330.4,65 330.4,69 L330.4,77" fill="none" stroke="#0000cc" stroke-width="1.3"/>
<!-- pointer arrows -->
<line x1="123.7" y1="386" x2="123.7" y2="327" stroke="#000" stroke-width="1.4"/>
<polygon points="123.7,319.7 127.7,328 119.7,328" fill="#000"/>
<line x1="129.3" y1="386" x2="191" y2="324.5" stroke="#000" stroke-width="1.4"/>
<polygon points="195.8,319.7 192.8,328.4 187.1,322.7" fill="#000"/>
<!-- text -->
<g font-size="24" font-weight="400" stroke-width="0.5">
<text transform="translate(238.8,46.7) scale(1,0.9)" fill="#0000cc" stroke="#0000cc">統計分布<tspan dx="-1">（</tspan><tspan dx="0.8">確率論的評価で使用）</tspan></text>
<text transform="translate(147.3,106.0) scale(1,0.9)" fill="#0000cc" stroke="#0000cc" text-anchor="middle">破壊靭性</text>
<text transform="translate(147.4,135.1) scale(1,0.9)" fill="#0000cc" stroke="#0000cc" text-anchor="middle"><tspan dx="-0.5">（</tspan><tspan dx="0.5">鋼材の抵抗力</tspan><tspan dx="1.5">）</tspan></text>
<text transform="translate(528.7,243.4) scale(1,0.9)" fill="#c00000" stroke="#c00000" text-anchor="middle">応力拡大係数</text>
<text transform="translate(529.7,272.2) scale(1,0.9)" fill="#c00000" stroke="#c00000" text-anchor="middle"><tspan dx="-0.3">（</tspan><tspan dx="0.3">破壊の駆動力</tspan><tspan dx="1.5">）</tspan></text>
<text transform="translate(66.6,406.7) scale(1,0.9)" fill="#000" stroke="#000">決定論的評価で使用（実線）</text>
<text transform="translate(235.5,458.4) scale(1,0.9)" fill="#000" stroke="#000">亀裂先端の温度[<tspan dx="1.2">℃</tspan><tspan dx="1.2">]</tspan></text>
<g transform="translate(29.3,402) rotate(-90) scale(1,0.9)" fill="#000" stroke="#000" font-size="23.5">
<text x="0" y="0">応力拡大係数, </text>
<text x="155.5" y="0">破壊靭性 </text>
<text x="254.3" y="0" style="font-family:'DejaVu Sans','Liberation Sans',sans-serif" font-size="20.8" font-weight="400" stroke="#000" stroke-width="0.5" transform="scale(1,1.1111)">[MPa√m]</text>
</g>
</g>

</svg>
</body></html>
